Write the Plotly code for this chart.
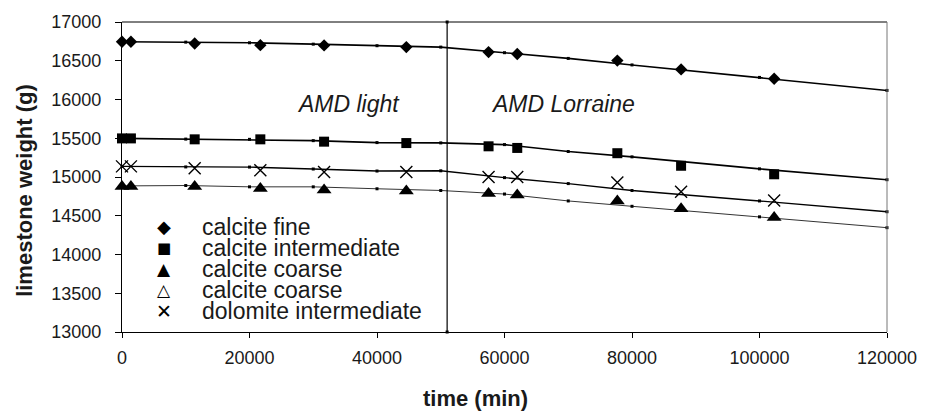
import plotly.graph_objects as go

# ---- data ----
t_meas = [0, 1400, 11400, 21700, 31700, 44600, 57500, 62000, 77700, 87700, 102300]
fine_meas = [16745, 16745, 16723, 16701, 16698, 16676, 16612, 16587, 16502, 16388, 16268]
inter_meas = [15498, 15498, 15486, 15486, 15456, 15438, 15396, 15375, 15307, 15145, 15035]
coarse_meas = [14877, 14877, 14877, 14851, 14831, 14818, 14788, 14767, 14691, 14589, 14478]
dolo_meas = [15137, 15137, 15112, 15086, 15065, 15065, 15001, 15001, 14928, 14809, 14698]

t_model = [0, 10000, 20000, 30000, 40000, 50000, 60000, 70000, 80000, 100000, 120000]
fine_model = [16745, 16740, 16732, 16714, 16694, 16676, 16604, 16530, 16446, 16285, 16117]
inter_model = [15498, 15489, 15486, 15469, 15444, 15440, 15418, 15329, 15260, 15105, 14965]
dolo_model = [15137, 15130, 15128, 15103, 15077, 15080, 14992, 14915, 14826, 14691, 14552]
coarse_model = [14885, 14890, 14873, 14873, 14848, 14826, 14780, 14691, 14622, 14486, 14346]

divider_t = [51000, 51000]
divider_w = [13000, 17000]

legend_labels = ["calcite fine", "calcite intermediate", "calcite coarse",
                 "calcite coarse", "dolomite intermediate"]
legend_glyphs = ["\u25C6", "\u25A0", "\u25B2", "\u25B3", "\u2715"]

x_ticks = [0, 20000, 40000, 60000, 80000, 100000, 120000]
y_ticks = [13000, 13500, 14000, 14500, 15000, 15500, 16000, 16500, 17000]

FONT = "Liberation Sans, Arial, sans-serif"
TXT = "#1a1a1a"

fig = go.Figure()

# model lines with small dots
for vals, w, col in [(fine_model, 1.6, "#000000"), (inter_model, 1.6, "#000000"),
                     (dolo_model, 1.4, "#000000"), (coarse_model, 1.0, "#333333")]:
    fig.add_trace(go.Scatter(x=t_model, y=vals, mode="lines+markers",
                             line=dict(color=col, width=w),
                             marker=dict(symbol="square", size=3, color="#000000"),
                             showlegend=False, cliponaxis=False))

# divider
fig.add_trace(go.Scatter(x=divider_t, y=divider_w, mode="lines+markers",
                         line=dict(color="#000000", width=1.2),
                         marker=dict(symbol="square", size=3, color="#000000"),
                         showlegend=False, cliponaxis=False))

# measured points
fig.add_trace(go.Scatter(x=t_meas, y=fine_meas, mode="markers", name=legend_labels[0],
                         marker=dict(symbol="diamond", size=9.5, color="#000000"),
                         showlegend=False, cliponaxis=False))
fig.add_trace(go.Scatter(x=t_meas, y=inter_meas, mode="markers", name=legend_labels[1],
                         marker=dict(symbol="square", size=10, color="#000000"),
                         showlegend=False, cliponaxis=False))
fig.add_trace(go.Scatter(x=t_meas, y=coarse_meas, mode="markers", name=legend_labels[2],
                         marker=dict(symbol="triangle-up", size=13, color="#000000"),
                         showlegend=False, cliponaxis=False))
fig.add_trace(go.Scatter(x=t_meas, y=dolo_meas, mode="markers", name=legend_labels[4],
                         marker=dict(symbol="x-thin", size=12,
                                     line=dict(width=1.4, color="#000000")),
                         showlegend=False, cliponaxis=False))

annotations = []
# custom legend
row_y = [0.3389, 0.2709, 0.2033, 0.1353, 0.0676]
glyph_sizes = [18, 15, 17, 17, 19]
for lab, gl, gs, yy in zip(legend_labels, legend_glyphs, glyph_sizes, row_y):
    annotations.append(dict(xref="paper", yref="paper", x=0.1015, y=yy, text=lab,
                            showarrow=False, xanchor="left", yanchor="middle",
                            font=dict(family=FONT, size=23, color=TXT)))
    annotations.append(dict(xref="paper", yref="paper", x=0.0555, y=yy, text=gl,
                            showarrow=False, xanchor="center", yanchor="middle",
                            font=dict(family="DejaVu Sans", size=gs, color="#000000")))

# region labels
annotations.append(dict(x=35500, y=15940, text="<i>AMD light</i>", showarrow=False,
                        xanchor="center", yanchor="middle",
                        font=dict(family=FONT, size=23, color=TXT)))
annotations.append(dict(x=69150, y=15940, text="<i>AMD Lorraine</i>", showarrow=False,
                        xanchor="center", yanchor="middle",
                        font=dict(family=FONT, size=23, color=TXT)))

# axis titles
annotations.append(dict(xref="paper", yref="paper", x=-0.1268, y=0.4585,
                        text="<b>limestone weight (g)</b>", textangle=-90, showarrow=False,
                        xanchor="center", yanchor="middle",
                        font=dict(family=FONT, size=22, color=TXT)))
annotations.append(dict(xref="paper", yref="paper", x=0.4627, y=-0.2147,
                        text="<b>time (min)</b>", showarrow=False,
                        xanchor="center", yanchor="middle",
                        font=dict(family=FONT, size=22, color=TXT)))

fig.update_layout(
    width=930, height=412,
    margin=dict(l=122, r=43, t=18, b=80),
    paper_bgcolor="white", plot_bgcolor="white",
    annotations=annotations,
    shapes=[
        dict(type="line", xref="paper", yref="paper", x0=0, x1=1, y0=1, y1=1,
             line=dict(color="#000000", width=1)),
        dict(type="line", xref="paper", yref="paper", x0=1, x1=1, y0=0, y1=1,
             line=dict(color="#777777", width=1)),
    ],
)
fig.update_xaxes(range=[0, 120000], tickvals=x_ticks, tickformat="d",
                 showgrid=False, zeroline=False, showline=True, linecolor="#000000",
                 linewidth=1.2, ticks="outside", ticklen=5, tickcolor="#000000",
                 tickfont=dict(family=FONT, size=18, color=TXT), ticklabelstandoff=4)
fig.update_yaxes(range=[13000, 17000], tickvals=y_ticks, tickformat="d",
                 showgrid=False, zeroline=False, showline=True, linecolor="#000000",
                 linewidth=1.2, ticks="outside", ticklen=6, tickcolor="#000000",
                 tickfont=dict(family=FONT, size=18, color=TXT), ticklabelstandoff=10)

fig.write_html("out.html", config={"displayModeBar": False},
               post_script="document.body.style.margin='0';")
